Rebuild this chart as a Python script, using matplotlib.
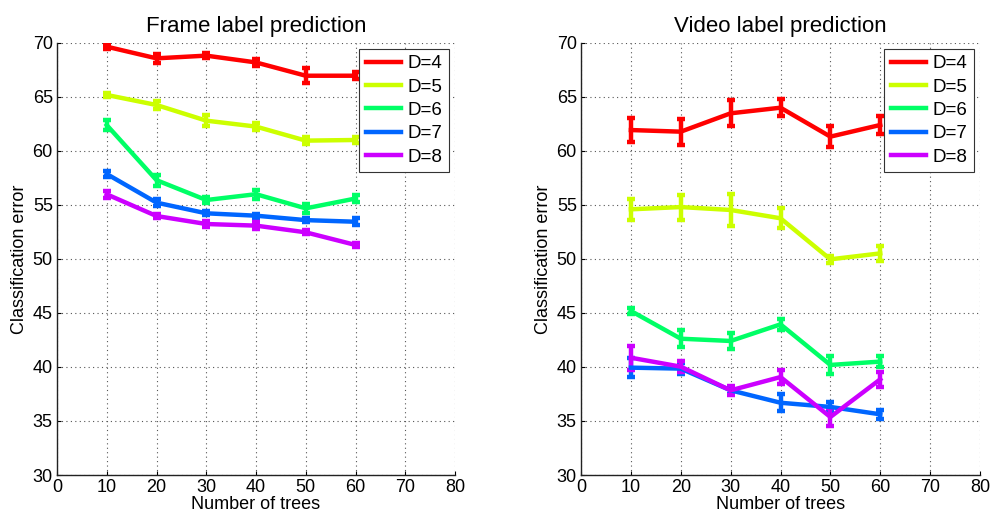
import matplotlib
matplotlib.use("Agg")
import matplotlib.pyplot as plt
from matplotlib.lines import Line2D

plt.rcParams['font.family'] = ['Liberation Sans', 'DejaVu Sans']

trees = [10, 20, 30, 40, 50, 60]
labels = ["D=4", "D=5", "D=6", "D=7", "D=8"]
colors = ["#ff0000", "#ccff00", "#00ff66", "#0066ff", "#cc00ff"]

frame_vals = [
    [69.66, 68.58, 68.83, 68.2, 66.97, 66.97],
    [65.19, 64.26, 62.81, 62.26, 60.96, 61.02],
    [62.4, 57.3, 55.46, 56.0, 54.69, 55.6],
    [57.87, 55.22, 54.23, 54.01, 53.6, 53.45],
    [55.99, 53.98, 53.24, 53.09, 52.47, 51.3],
]
frame_err = [
    [0.2, 0.4, 0.2, 0.3, 0.7, 0.3],
    [0.2, 0.4, 0.5, 0.3, 0.3, 0.3],
    [0.5, 0.5, 0.3, 0.4, 0.4, 0.3],
    [0.3, 0.3, 0.2, 0.2, 0.2, 0.3],
    [0.3, 0.2, 0.3, 0.3, 0.2, 0.2],
]
video_vals = [
    [61.94, 61.79, 63.49, 64.01, 61.33, 62.41],
    [54.6, 54.81, 54.54, 53.77, 49.97, 50.52],
    [45.19, 42.62, 42.41, 43.95, 40.19, 40.5],
    [39.94, 39.85, 37.84, 36.69, 36.3, 35.62],
    [40.86, 40.03, 37.84, 39.07, 35.37, 38.86],
]
video_err = [
    [1.08, 1.2, 1.2, 0.8, 1.0, 0.85],
    [0.95, 1.16, 1.47, 0.93, 0.3, 0.7],
    [0.3, 0.77, 0.7, 0.5, 0.85, 0.5],
    [0.9, 0.5, 0.3, 0.8, 0.5, 0.4],
    [1.1, 0.5, 0.4, 0.65, 0.85, 0.7],
]
titles = ["Frame label prediction", "Video label prediction"]

fig = plt.figure(figsize=(9.9, 5.16), dpi=100)
ax1 = fig.add_axes([57/990, 41/516, 398/990, 432/516])
ax2 = fig.add_axes([581/990, 41/516, 399/990, 432/516])

for ax, vals, errs, title in [(ax1, frame_vals, frame_err, titles[0]),
                              (ax2, video_vals, video_err, titles[1])]:
    handles = []
    for v, e, c, lab in zip(vals, errs, colors, labels):
        ax.errorbar(trees, v, yerr=e, color=c, lw=3.2, elinewidth=3.2,
                    capsize=2.6, capthick=3.2, zorder=3)
        handles.append(Line2D([], [], color=c, lw=3.2, label=lab))
    ax.set_xlim(0, 80)
    ax.set_ylim(30, 70)
    ax.set_xticks(range(0, 81, 10))
    ax.set_yticks(range(30, 71, 5))
    ax.grid(True, linestyle=(0, (1, 3)), color='#555555', linewidth=0.8)
    ax.set_axisbelow(True)
    for s in ['top', 'right']:
        ax.spines[s].set_visible(False)
    for s in ['left', 'bottom']:
        ax.spines[s].set_linewidth(1.0)
        ax.spines[s].set_color('#222222')
    ax.tick_params(axis='x', labelsize=13, direction='in', length=3, pad=3)
    ax.tick_params(axis='y', labelsize=13, direction='in', length=3, pad=3)
    ax.set_xlabel("Number of trees", fontsize=13, labelpad=0)
    ax.set_ylabel("Classification error", fontsize=13, labelpad=3)
    ax.set_title(title, fontsize=16, pad=8)
    leg = ax.legend(handles=handles, loc='upper right', fontsize=13.5,
                    fancybox=False, framealpha=1, edgecolor='#333333',
                    handlelength=1.9, borderaxespad=0.3, labelspacing=0.33,
                    handletextpad=0.35, borderpad=0.35)
    leg.get_frame().set_linewidth(0.8)

fig.savefig("out.png", dpi=100)
